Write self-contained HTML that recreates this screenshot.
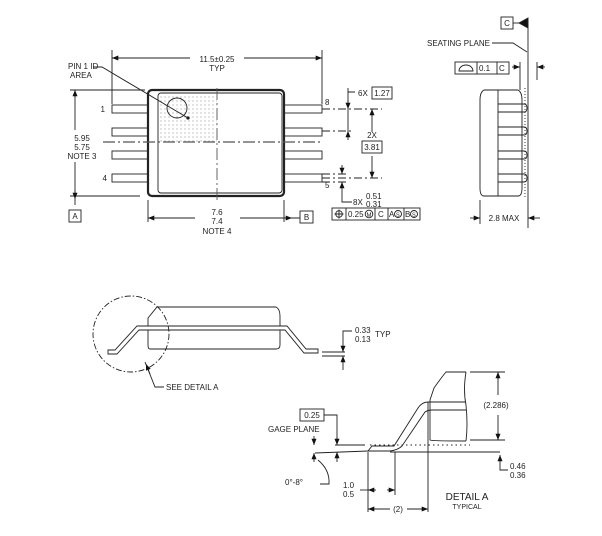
<!DOCTYPE html>
<html><head><meta charset="utf-8"><style>
html,body{margin:0;padding:0;background:#fff;}
svg{display:block;font-family:"Liberation Sans",sans-serif;}
text{font-size:8px;fill:#222;}
</style></head><body>
<svg width="602" height="536" viewBox="0 0 602 536" xmlns="http://www.w3.org/2000/svg">
<defs>
<pattern id="dots" width="4" height="4" patternUnits="userSpaceOnUse"><circle cx="1" cy="1" r="0.5" fill="#666"/></pattern>
<marker id="ar" viewBox="0 0 10 10" refX="10" refY="5" markerWidth="7" markerHeight="7" orient="auto-start-reverse"><path d="M0,1 L10,5 L0,9 z" fill="#111"/></marker>
</defs>
<g stroke="#222" fill="none" stroke-width="0.9">
<!-- TOP VIEW -->
<rect x="158" y="92" width="59" height="50" fill="url(#dots)" stroke="none"/>
<rect x="148" y="90" width="136" height="106" rx="4" stroke-width="2.2"/>
<rect x="158" y="93" width="124" height="100" rx="3"/>
<circle cx="177" cy="108" r="10"/>
<path d="M93,67 H102 L188,118"/>
<circle cx="188" cy="118" r="1.2" fill="#111"/>
<g>
<rect x="112" y="105" width="36" height="8"/><rect x="112" y="128" width="36" height="8"/>
<rect x="112" y="151" width="36" height="8"/><rect x="112" y="174" width="36" height="8"/>
<rect x="284" y="105" width="38" height="8"/><rect x="284" y="128" width="38" height="8"/>
<rect x="284" y="151" width="38" height="8"/><rect x="284" y="174" width="38" height="8"/>
</g>
<path d="M103,142 H323" stroke-dasharray="12,3,2,3" stroke="#555" stroke-width="1.2"/>
<path d="M217,88 V200" stroke-dasharray="12,3,2,3" stroke="#555"/>
<path d="M322,109 H382 M322,131 H352 M322,178 H382 M322,174 H348 M322,182 H348" stroke-dasharray="8,3,2,3"/>
<path d="M112,50 V104 M322,50 V104"/>
<path d="M112,58 H190 M244,58 H322"/>
<path d="M120,58 H112" marker-end="url(#ar)"/><path d="M314,58 H322" marker-end="url(#ar)"/>
<path d="M70,90 H145 M70,196 H140"/>
<path d="M75,90 V130 M75,162 V205"/>
<path d="M75,98 V90" marker-end="url(#ar)"/><path d="M75,190 V199" marker-end="url(#ar)"/>
<rect x="69" y="210" width="12" height="12"/>
<path d="M148,200 V222 M284,200 V222"/>
<path d="M148,218 H195 M240,218 H300"/>
<path d="M156,218 H148" marker-end="url(#ar)"/><path d="M284,218 H292" marker-end="url(#ar)"/>
<rect x="300" y="211" width="13" height="12"/>
<path d="M348,88 V131 M348,92 H355"/>
<path d="M348,100 V109" marker-end="url(#ar)"/><path d="M348,140 V131" marker-end="url(#ar)"/>
<rect x="372" y="87" width="20" height="12"/>
<path d="M372,109 V132 M372,156 V178"/>
<path d="M372,117 V109" marker-end="url(#ar)"/><path d="M372,170 V178" marker-end="url(#ar)"/>
<rect x="362" y="141" width="20" height="12"/>
<path d="M342,165 V174" marker-end="url(#ar)"/><path d="M342,191 V182" marker-end="url(#ar)"/>
<path d="M342,191 V202 H352"/>
<rect x="332" y="208" width="88" height="12"/>
<path d="M346,208 V220 M375,208 V220 M388,208 V220 M404,208 V220"/>
<circle cx="339" cy="214" r="3.3"/><path d="M339,209.5 V218.5 M334.5,214 H343.5"/>
<circle cx="369" cy="214" r="3.8"/><circle cx="398" cy="214" r="3.5"/><circle cx="414" cy="214" r="3.5"/>
<!-- RIGHT SIDE VIEW -->
<path d="M484,90 Q480,92 480,100 V188 Q480,196 484,196 H498 V90 Z"/>
<path d="M498,90 H518 Q522,92 522,100 V188 Q522,196 518,196 H498"/>
<path d="M498,104 H524 Q527,104 527,108 Q527,112 524,112 H498 M498,127 H524 Q527,127 527,131 Q527,135 524,135 H498 M498,151 H524 Q527,151 527,155 Q527,159 524,159 H498 M498,174 H524 Q527,174 527,178 Q527,182 524,182 H498"/>
<path d="M525,88 V198" stroke-dasharray="1,2"/>
<path d="M528,20 V228"/>
<path d="M513,23 H528"/><path d="M528,18 L528,28 L519,23 Z" fill="#111"/>
<rect x="501" y="17" width="12" height="12"/>
<path d="M492,43 H513 L527,52"/>
<rect x="455" y="62" width="54" height="12"/>
<path d="M477,62 V74 M497,62 V74"/>
<path d="M459,71 A7,6 0 0 1 473,71 Z"/>
<path d="M512,67 H520" marker-end="url(#ar)"/><path d="M545,67 H537" marker-end="url(#ar)"/>
<path d="M520,62 V90 M537,62 V80"/>
<path d="M480,200 V224"/>
<path d="M470,218 H480" marker-end="url(#ar)"/><path d="M540,218 H528" marker-end="url(#ar)"/>
<!-- MIDDLE SIDE VIEW -->
<path d="M157,307 H276 Q280,309 280,316 V345 Q280,349 276,349 H150 Q148,349 148,345 V318 Z"/>
<path d="M137,326 H287 L306,349 H318 V353 H304 L285,330 H139 L117,354 H108 V350 H115 Z" fill="#fff"/>
<path d="M148,326 H280 M148,330 H280"/>
<circle cx="131" cy="334" r="38" stroke-dasharray="6,2,1.5,2"/>
<path d="M145,362 L155,387 H164"/><path d="M150,374 L146,364" marker-end="url(#ar)"/>
<path d="M322,352 H345 M322,356 H345"/>
<path d="M343,338 V352" marker-end="url(#ar)"/><path d="M343,370 V356" marker-end="url(#ar)"/>
<path d="M343,338 V331 H352"/>
<!-- DETAIL A -->
<path d="M466,372 H446 Q441,378 434,388 L430,400 V440 Q432,441 466,441"/>
<path d="M466,372 Q463,390 466,405 Q468,425 466,441"/>
<path d="M466,402 H428 Q422,402 418,408 L394,446 H372 L368,451 H390 Q398,450 402,446 L425,412 Q428,410 432,410 H466"/>
<path d="M370,445 H470" stroke-dasharray="1.5,3"/>
<path d="M335,445 H365 M390,452 H500"/>
<path d="M315,453 L368,451"/>
<path d="M470,372 H505 M470,440 H505"/>
<path d="M498,372 V395 M498,415 V440"/>
<path d="M498,380 V372" marker-end="url(#ar)"/><path d="M498,432 V440" marker-end="url(#ar)"/>
<path d="M500,462 V455" marker-end="url(#ar)"/><path d="M500,462 V470 H508"/>
<path d="M368,452 V512 M395,452 V495 M428,402 V512"/>
<path d="M376,490 H368" marker-end="url(#ar)"/><path d="M387,490 H395" marker-end="url(#ar)"/>
<path d="M360,490 H368"/>
<path d="M368,509 H390 M407,509 H428"/>
<path d="M376,509 H368" marker-end="url(#ar)"/><path d="M420,509 H428" marker-end="url(#ar)"/>
<rect x="300" y="409" width="24" height="12"/>
<path d="M324,415 H337 V445"/><path d="M337,437 V445" marker-end="url(#ar)"/>
<path d="M337,462 V452" marker-end="url(#ar)"/>
<path d="M314,436 V445" marker-end="url(#ar)"/><path d="M314,462 V453" marker-end="url(#ar)"/>
<path d="M318,460 Q330,470 329,484 H320"/>
</g>
<g>
<text x="68" y="69">PIN 1 ID</text><text x="70" y="78">AREA</text>
<text x="217" y="62" text-anchor="middle">11.5±0.25</text><text x="217" y="71" text-anchor="middle">TYP</text>
<text x="105" y="112" text-anchor="end">1</text><text x="107" y="181" text-anchor="end">4</text>
<text x="325" y="105">8</text><text x="325" y="188">5</text>
<text x="82" y="141" text-anchor="middle">5.95</text><text x="82" y="150" text-anchor="middle">5.75</text><text x="82" y="159" text-anchor="middle">NOTE 3</text>
<text x="75" y="219" text-anchor="middle">A</text>
<text x="217" y="215" text-anchor="middle">7.6</text><text x="217" y="224" text-anchor="middle">7.4</text><text x="217" y="234" text-anchor="middle">NOTE 4</text>
<text x="306.5" y="220" text-anchor="middle">B</text>
<text x="358" y="96">6X</text><text x="382" y="96" text-anchor="middle">1.27</text>
<text x="372" y="138" text-anchor="middle">2X</text><text x="372" y="150" text-anchor="middle">3.81</text>
<text x="353" y="205">8X</text><text x="366" y="199">0.51</text><text x="366" y="207">0.31</text>
<text x="348" y="217">0.25</text><text x="366.5" y="217" style="font-size:6px">M</text><text x="378" y="217">C</text><text x="389" y="217">A</text><text x="396" y="216.5" style="font-size:5.5px">S</text><text x="405" y="217">B</text><text x="412" y="216.5" style="font-size:5.5px">S</text>
<text x="507" y="26" text-anchor="middle">C</text>
<text x="427" y="46">SEATING PLANE</text>
<text x="479" y="71">0.1</text><text x="499" y="71">C</text>
<text x="504" y="221" text-anchor="middle">2.8 MAX</text>
<text x="166" y="390">SEE DETAIL A</text>
<text x="355" y="333">0.33</text><text x="355" y="342">0.13</text><text x="375" y="337">TYP</text>
<text x="312" y="418" text-anchor="middle">0.25</text>
<text x="268" y="432">GAGE PLANE</text>
<text x="496" y="408" text-anchor="middle">(2.286)</text>
<text x="510" y="469">0.46</text><text x="510" y="478">0.36</text>
<text x="285" y="485">0°-8°</text>
<text x="343" y="488">1.0</text><text x="343" y="497">0.5</text>
<text x="398" y="512" text-anchor="middle">(2)</text>
<text x="467" y="500" text-anchor="middle" style="font-size:10px">DETAIL A</text><text x="467" y="509" text-anchor="middle" style="font-size:7px">TYPICAL</text>
</g>
</svg>
</body></html>
